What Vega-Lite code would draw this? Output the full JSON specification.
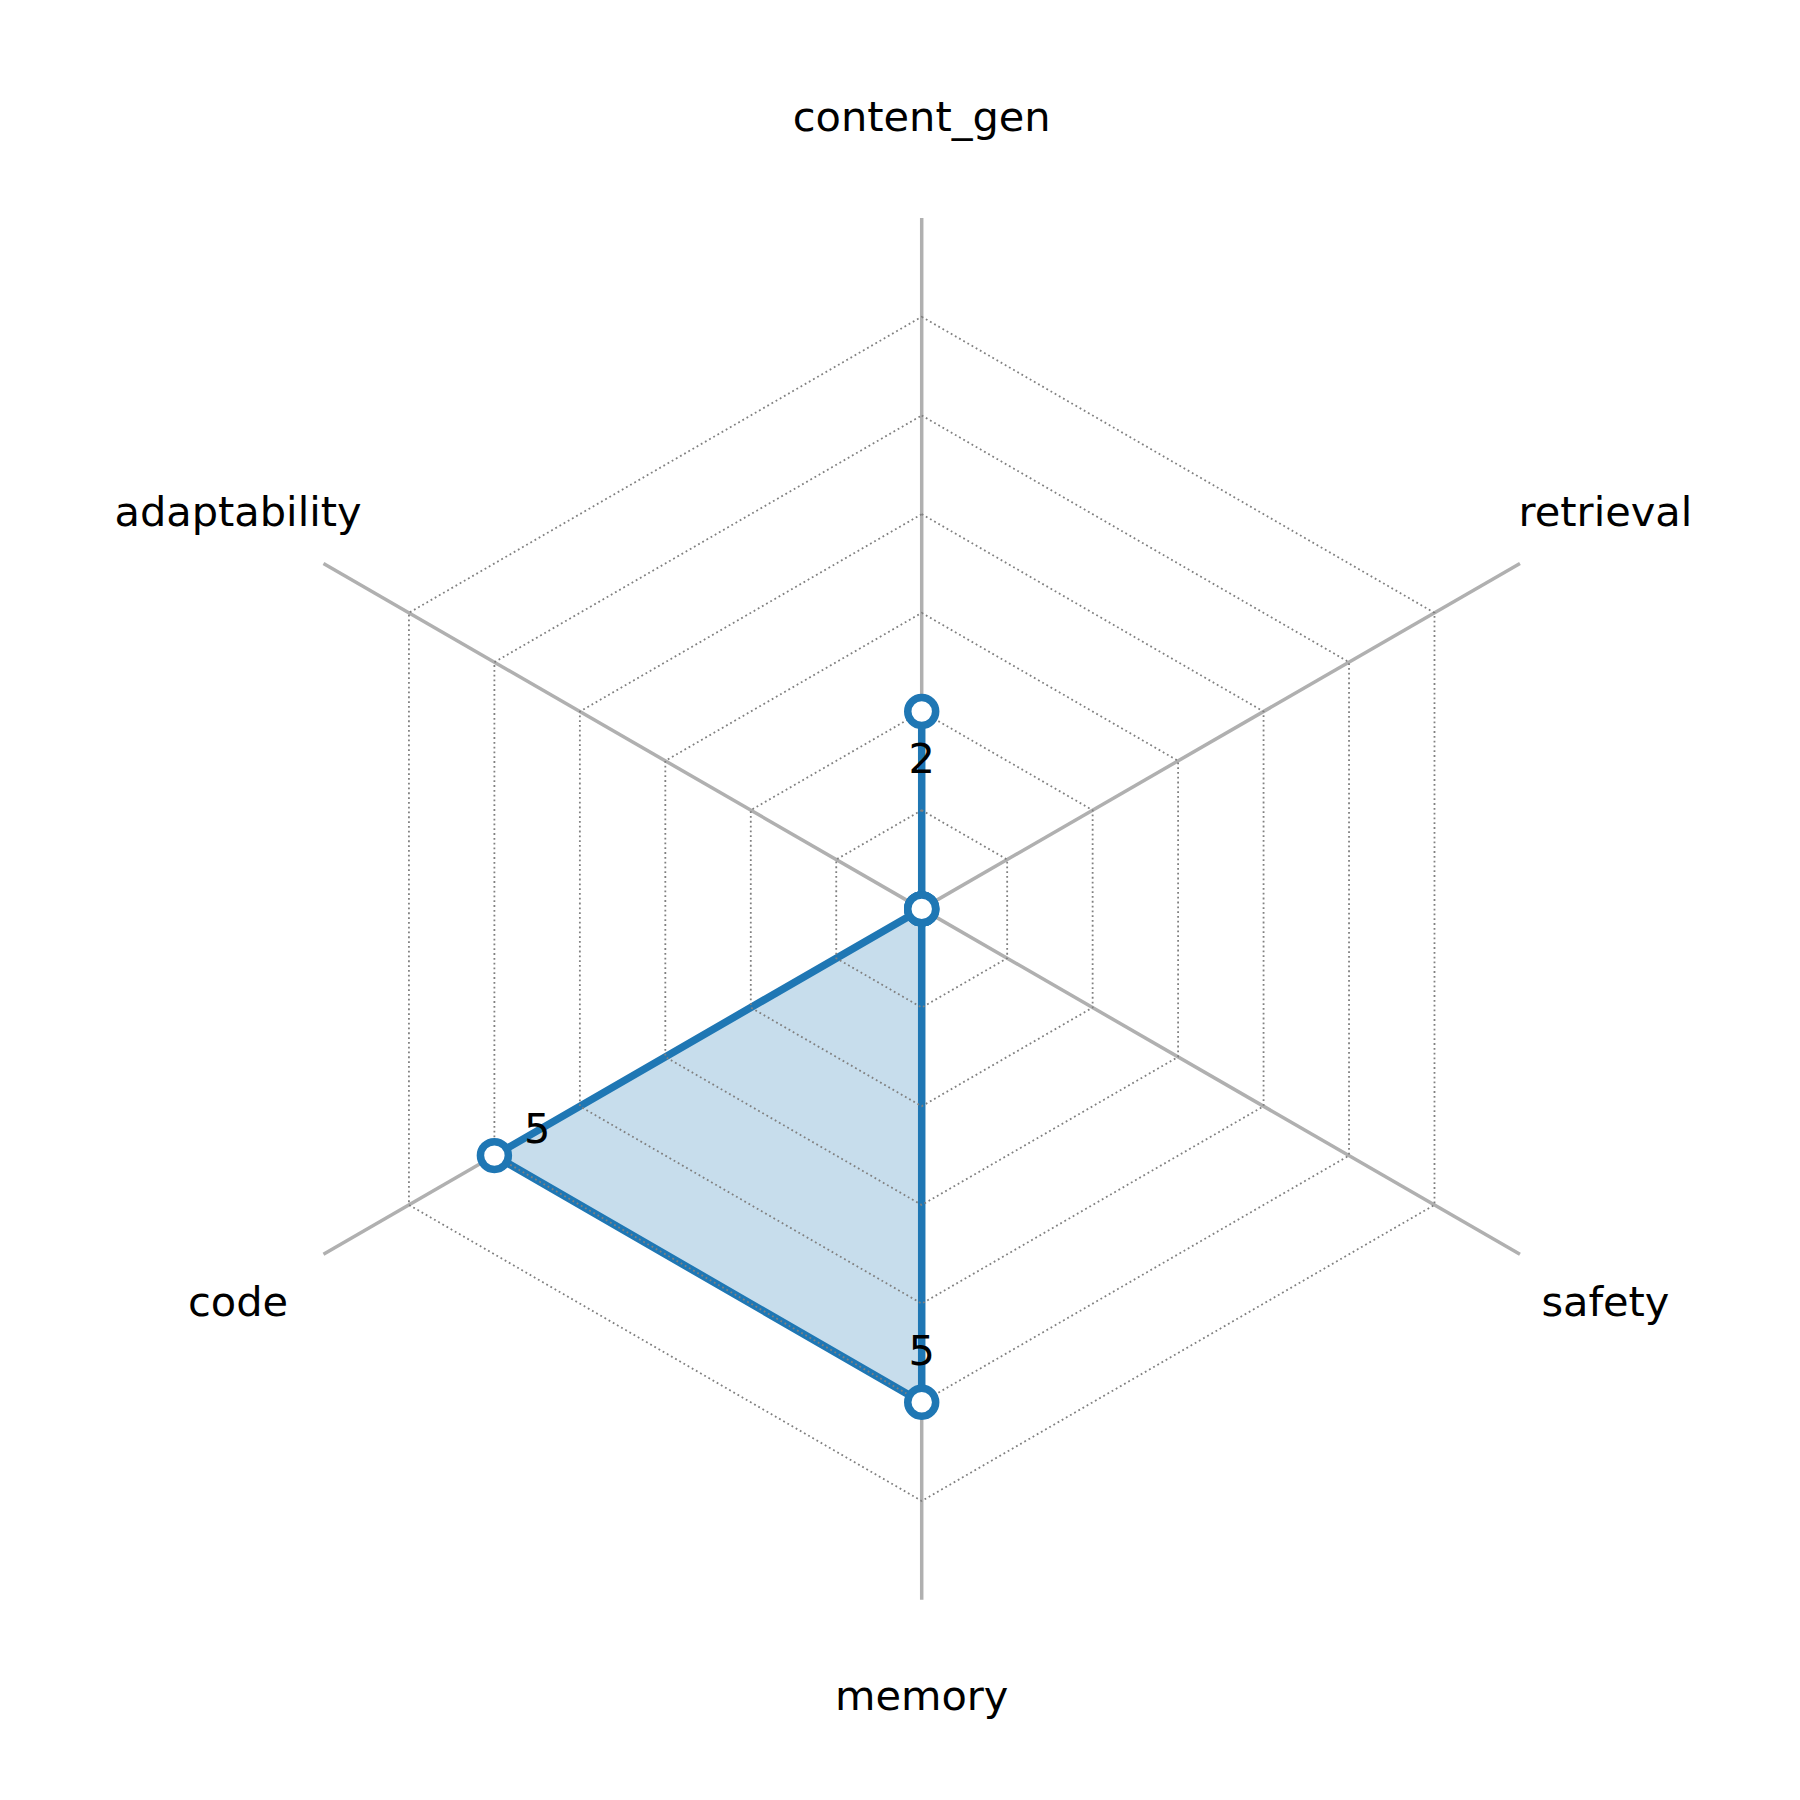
{
  "$schema": "https://vega.github.io/schema/vega-lite/v6.json",
  "width": 1800,
  "height": 1800,
  "padding": 0,
  "autosize": {"type": "fit", "contains": "padding"},
  "background": "white",
  "config": {"view": {"stroke": null}},
  "datasets": {
    "scores": [
      {"axis": "content_gen", "i": 0, "value": 2},
      {"axis": "retrieval", "i": 1, "value": 0},
      {"axis": "safety", "i": 2, "value": 0},
      {"axis": "memory", "i": 3, "value": 5},
      {"axis": "code", "i": 4, "value": 5},
      {"axis": "adaptability", "i": 5, "value": 0}
    ],
    "rings": [
      {"level": 1, "i": [0, 1, 2, 3, 4, 5]},
      {"level": 2, "i": [0, 1, 2, 3, 4, 5]},
      {"level": 3, "i": [0, 1, 2, 3, 4, 5]},
      {"level": 4, "i": [0, 1, 2, 3, 4, 5]},
      {"level": 5, "i": [0, 1, 2, 3, 4, 5]},
      {"level": 6, "i": [0, 1, 2, 3, 4, 5]}
    ]
  },
  "layer": [
    {
      "data": {"name": "scores"},
      "transform": [
        {"calculate": "datum.i * PI / 3", "as": "a"},
        {"calculate": "0", "as": "ox"},
        {"calculate": "0", "as": "oy"},
        {"calculate": "7 * sin(datum.a)", "as": "ex"},
        {"calculate": "7 * cos(datum.a)", "as": "ey"}
      ],
      "mark": {"type": "rule", "stroke": "#b0b0b0", "strokeWidth": 3.5},
      "encoding": {
        "x": {"field": "ox", "type": "quantitative", "scale": {"domain": [-9.34, 8.9], "nice": false, "zero": false}, "axis": null},
        "y": {"field": "oy", "type": "quantitative", "scale": {"domain": [-9.03, 9.21], "nice": false, "zero": false}, "axis": null},
        "x2": {"field": "ex"},
        "y2": {"field": "ey"}
      }
    },
    {
      "data": {"name": "scores"},
      "transform": [
        {"calculate": "datum.i * PI / 3", "as": "a"},
        {"calculate": "datum.value * sin(datum.a)", "as": "px"},
        {"calculate": "datum.value * cos(datum.a)", "as": "py"}
      ],
      "mark": {"type": "line", "interpolate": "linear-closed", "stroke": "#1f77b4", "strokeWidth": 7.5, "strokeJoin": "round", "fill": "#1f77b4", "fillOpacity": 0.25},
      "encoding": {
        "x": {"field": "px", "type": "quantitative", "scale": {"domain": [-9.34, 8.9], "nice": false, "zero": false}, "axis": null},
        "y": {"field": "py", "type": "quantitative", "scale": {"domain": [-9.03, 9.21], "nice": false, "zero": false}, "axis": null},
        "order": {"field": "i", "type": "quantitative"}
      }
    },
    {
      "data": {"name": "rings"},
      "transform": [
        {"flatten": ["i"]},
        {"calculate": "datum.i * PI / 3", "as": "a"},
        {"calculate": "datum.level * sin(datum.a)", "as": "gx"},
        {"calculate": "datum.level * cos(datum.a)", "as": "gy"}
      ],
      "mark": {"type": "line", "interpolate": "linear-closed", "stroke": "#808080", "strokeWidth": 1.8, "strokeDash": [1.8, 3]},
      "encoding": {
        "x": {"field": "gx", "type": "quantitative", "scale": {"domain": [-9.34, 8.9], "nice": false, "zero": false}, "axis": null},
        "y": {"field": "gy", "type": "quantitative", "scale": {"domain": [-9.03, 9.21], "nice": false, "zero": false}, "axis": null},
        "detail": {"field": "level", "type": "nominal"},
        "order": {"field": "i", "type": "quantitative"}
      }
    },
    {
      "data": {"name": "scores"},
      "transform": [
        {"calculate": "datum.i * PI / 3", "as": "a"},
        {"calculate": "datum.value * sin(datum.a)", "as": "px"},
        {"calculate": "datum.value * cos(datum.a)", "as": "py"}
      ],
      "mark": {"type": "point", "shape": "circle", "filled": true, "fill": "white", "stroke": "#1f77b4", "strokeWidth": 7.5, "size": 780, "opacity": 1},
      "encoding": {
        "x": {"field": "px", "type": "quantitative", "scale": {"domain": [-9.34, 8.9], "nice": false, "zero": false}, "axis": null},
        "y": {"field": "py", "type": "quantitative", "scale": {"domain": [-9.03, 9.21], "nice": false, "zero": false}, "axis": null}
      }
    },
    {
      "data": {"name": "scores"},
      "transform": [
        {"filter": "datum.value > 0"},
        {"calculate": "datum.i * PI / 3", "as": "a"},
        {"calculate": "(datum.value - 0.5) * sin(datum.a)", "as": "lx"},
        {"calculate": "(datum.value - 0.5) * cos(datum.a)", "as": "ly"}
      ],
      "mark": {"type": "text", "font": "DejaVu Sans", "fontSize": 41.5, "color": "black", "align": "center", "baseline": "middle"},
      "encoding": {
        "x": {"field": "lx", "type": "quantitative", "scale": {"domain": [-9.34, 8.9], "nice": false, "zero": false}, "axis": null},
        "y": {"field": "ly", "type": "quantitative", "scale": {"domain": [-9.03, 9.21], "nice": false, "zero": false}, "axis": null},
        "text": {"field": "value", "type": "quantitative"}
      }
    },
    {
      "data": {"name": "scores"},
      "transform": [
        {"calculate": "datum.i * PI / 3", "as": "a"},
        {"calculate": "8 * sin(datum.a)", "as": "tx"},
        {"calculate": "8 * cos(datum.a)", "as": "ty"}
      ],
      "mark": {"type": "text", "font": "DejaVu Sans", "fontSize": 41.5, "color": "black", "align": "center", "baseline": "middle"},
      "encoding": {
        "x": {"field": "tx", "type": "quantitative", "scale": {"domain": [-9.34, 8.9], "nice": false, "zero": false}, "axis": null},
        "y": {"field": "ty", "type": "quantitative", "scale": {"domain": [-9.03, 9.21], "nice": false, "zero": false}, "axis": null},
        "text": {"field": "axis", "type": "nominal"}
      }
    }
  ]
}
